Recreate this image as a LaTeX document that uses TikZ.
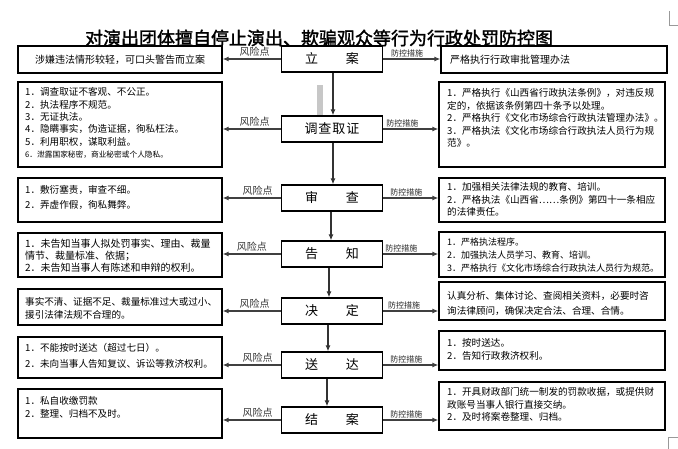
\documentclass[tikz,border=0pt]{standalone}
\usepackage{fontspec}
\setmainfont{Noto Sans CJK SC}
\newfontfamily\cjk{Noto Sans CJK SC}
\newfontfamily\cjkbold[FakeBold=1.6]{Noto Sans CJK SC}
\usetikzlibrary{arrows.meta}
\tikzset{
  titletext/.style={font=\cjkbold\fontsize{18}{20}\selectfont, inner sep=0pt},
  cbox/.style={draw=black, line width=1.2pt, minimum width=101pt, minimum height=26pt, inner sep=0pt, font=\cjk\fontsize{13}{15}\selectfont},
  sbox/.style={draw=black, line width=1.2pt, inner sep=0pt},
  txt/.style={anchor=north west, align=left, inner sep=0pt, font=\cjk\fontsize{9.6}{#1}\selectfont},
  txt/.default=12.5,
  lab/.style={font=\cjk\fontsize{10}{12}\selectfont, text=black!80, inner sep=1.5pt},
  labb/.style={font=\cjk\fontsize{8}{10}\selectfont, text=black!85, inner sep=1.5pt},
  harr/.style={draw=black!75, line width=1.5pt, -{Latex[length=6pt,width=5pt]}},
  varr/.style={draw=black!80, line width=1.3pt, -{Latex[length=6pt,width=5pt]}},
  cornermark/.style={draw=black!40, line width=0.8pt}
}
\begin{document}
\begin{tikzpicture}[x=1pt,y=-1pt]
\useasboundingbox (0,0) rectangle (678,449);
\fill[white] (0,0) rectangle (678,449);

% title
\node[titletext] (T) at (319,38) {对演出团体擅自停止演出、欺骗观众等行为行政处罚防控图};

% corner marks
\coordinate (K1) at (669,11);
\coordinate (K2) at (669,25);
\coordinate (K3) at (678,25);
\draw[cornermark] (K1) -- (K2) -- (K3);
\coordinate (K4) at (678,437);
\coordinate (K5) at (668,437);
\coordinate (K6) at (668,449);
\draw[cornermark] (K4) -- (K5) -- (K6);

% gray bar
\fill[black!22] (317,85) rectangle (323,115);

% center column
\node[cbox] (C1) at (332,59) {立\hspace{28pt}案};
\node[cbox] (C2) at (332,129) {调\kern1pt 查\kern1pt 取\kern1pt 证};
\node[cbox] (C3) at (332,198) {审\hspace{28pt}查};
\node[cbox] (C4) at (332,254) {告\hspace{28pt}知};
\node[cbox] (C5) at (332,311) {决\hspace{28pt}定};
\node[cbox] (C6) at (332,365) {送\hspace{28pt}达};
\node[cbox] (C7) at (332,420) {结\hspace{28pt}案};

% left boxes
\node[sbox, minimum width=204pt, minimum height=27pt] (L1) at (120,59.5) {};
\node[sbox, minimum width=204pt, minimum height=85pt] (L2) at (120,124.5) {};
\node[sbox, minimum width=204pt, minimum height=44pt] (L3) at (120,200) {};
\node[sbox, minimum width=204pt, minimum height=44pt] (L4) at (120,255) {};
\node[sbox, minimum width=204pt, minimum height=36pt] (L5) at (120,307) {};
\node[sbox, minimum width=204pt, minimum height=41pt] (L6) at (120,357.5) {};
\node[sbox, minimum width=204pt, minimum height=49pt] (L7) at (120,413.5) {};

% right boxes
\node[sbox, minimum width=226pt, minimum height=27pt] (R1) at (554,59.5) {};
\node[sbox, minimum width=226pt, minimum height=85pt] (R2) at (552,124.5) {};
\node[sbox, minimum width=226pt, minimum height=44pt] (R3) at (552,200) {};
\node[sbox, minimum width=226pt, minimum height=45pt] (R4) at (552,254.5) {};
\node[sbox, minimum width=226pt, minimum height=38pt] (R5) at (552,301) {};
\node[sbox, minimum width=226pt, minimum height=39pt] (R6) at (552,350.5) {};
\node[sbox, minimum width=226pt, minimum height=48pt] (R7) at (552,406) {};

% left texts
\node[txt, anchor=west, font=\cjk\fontsize{10}{12}\selectfont] (L1t) at (35,59.5) {涉嫌违法情形较轻，可口头警告而立案};
\node[txt=12.3] (L2t) at (25,87.5) {1．调查取证不客观、不公正。\\2．执法程序不规范。\\3．无证执法。\\4．隐瞒事实，伪造证据，徇私枉法。\\5．利用职权，谋取利益。\\{\fontsize{7.7}{12.3}\selectfont 6．泄露国家秘密，商业秘密或个人隐私。}};
\node[txt=15] (L3t) at (25,185.5) {1．敷衍塞责，审查不细。\\2．弄虚作假，徇私舞弊。};
\node[txt, font=\cjk\fontsize{10}{12}\selectfont] (L4t) at (25,238.5) {1．未告知当事人拟处罚事实、理由、裁量\\情节、裁量标准、依据；\\2．未告知当事人有陈述和申辩的权利。};
\node[txt=13] (L5t) at (25,297.5) {事实不清、证据不足、裁量标准过大或过小、\\援引法律法规不合理的。};
\node[txt=16] (L6t) at (25,343.5) {1．不能按时送达（超过七日）。\\2．未向当事人告知复议、诉讼等救济权利。};
\node[txt=12.5] (L7t) at (25,396.5) {1．私自收缴罚款\\2．整理、归档不及时。};

% right texts
\node[txt, anchor=west, font=\cjk\fontsize{10}{12}\selectfont] (R1t) at (450,59.5) {严格执行行政审批管理办法};
\node[txt=12.5] (R2t) at (447,88.5) {1．严格执行《山西省行政执法条例》，对违反规\\定的，依据该条例第四十条予以处理。\\2．严格执行《文化市场综合行政执法管理办法》。\\3．严格执法《文化市场综合行政执法人员行为规\\范》。};
\node[txt=12.5] (R3t) at (447,182.5) {1．加强相关法律法规的教育、培训。\\2．严格执法《山西省……条例》第四十一条相应\\的法律责任。};
\node[txt, font=\cjk\fontsize{9}{13}\selectfont] (R4t) at (447,237.7) {1．严格执法程序。\\2．加强执法人员学习、教育、培训。\\3．严格执行《文化市场综合行政执法人员行为规范。};
\node[txt=15] (R5t) at (447,291.5) {认真分析、集体讨论、查阅相关资料，必要时咨\\询法律顾问，确保决定合法、合理、合情。};
\node[txt=13] (R6t) at (447,338.5) {1．按时送达。\\2．告知行政救济权利。};
\node[txt=12.5] (R7t) at (447,387.5) {1．开具财政部门统一制发的罚款收据，或提供财\\政账号当事人银行直接交纳。\\2．及时将案卷整理、归档。};

% vertical flow
\draw[varr] ([xshift=1pt]C1.south) -- ([xshift=1pt]C2.north);
\draw[varr] ([xshift=1pt]C2.south) -- ([xshift=1pt]C3.north);
\draw[varr] ([xshift=-1pt]C3.south) -- ([xshift=-1pt]C4.north);
\draw[varr] ([xshift=-3pt]C4.south) -- ([xshift=-3pt]C5.north);
\draw[varr] ([xshift=-4pt]C5.south) -- ([xshift=-4pt]C6.north);
\draw[varr] ([xshift=-5pt]C6.south) -- ([xshift=-5pt]C7.north);

% risk arrows (left)
\draw[harr] (C1.west) -- node[lab, above, pos=0.45] (A1) {风险点} (C1.west -| L1.east);
\draw[harr] (C2.west) -- node[lab, above, pos=0.45] (A2) {风险点} (C2.west -| L2.east);
\draw[harr] (C3.west) -- node[lab, above, pos=0.4] (A3) {风险点} (C3.west -| L3.east);
\draw[harr] (C4.west) -- node[lab, above, pos=0.5] (A4) {风险点} (C4.west -| L4.east);
\draw[harr] (C5.west) -- node[lab, above, pos=0.45] (A5) {风险点} (C5.west -| L5.east);
\draw[harr] (C6.west) -- node[lab, above, pos=0.4] (A6) {风险点} (C6.west -| L6.east);
\draw[harr] (C7.west) -- node[lab, above, pos=0.4] (A7) {风险点} (C7.west -| L7.east);

% control arrows (right)
\draw[harr] (C1.east) -- node[labb, above, pos=0.42] (B1) {防控措施} (C1.east -| R1.west);
\draw[harr] (C2.east) -- node[labb, above, pos=0.35] (B2) {防控措施} (C2.east -| R2.west);
\draw[harr] (C3.east) -- node[labb, above, pos=0.42] (B3) {防控措施} (C3.east -| R3.west);
\draw[harr] (C4.east) -- node[labb, above, pos=0.33] (B4) {防控措施} (C4.east -| R4.west);
\draw[harr] (C5.east) -- node[labb, above, pos=0.38] (B5) {防控措施} (C5.east -| R5.west);
\draw[harr] (C6.east) -- node[labb, above, pos=0.42] (B6) {防控措施} (C6.east -| R6.west);
\draw[harr] (C7.east) -- node[labb, above, pos=0.42] (B7) {防控措施} (C7.east -| R7.west);
\end{tikzpicture}
\end{document}
